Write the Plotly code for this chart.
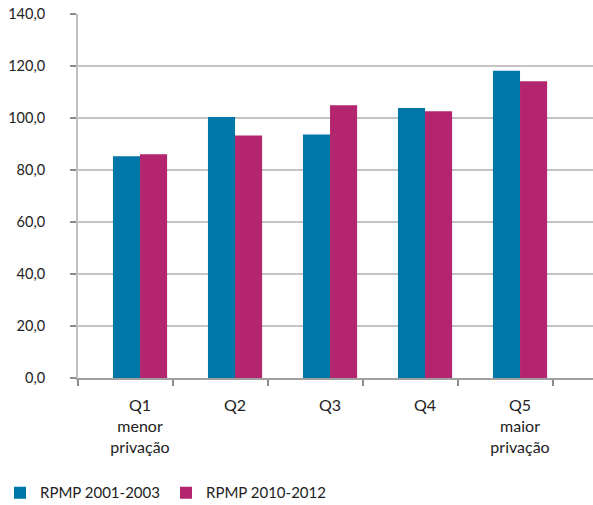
import plotly.graph_objects as go

categories = ["Q1<br>menor<br>privação", "Q2", "Q3", "Q4", "Q5<br>maior<br>privação"]
series_names = ["RPMP 2001-2003", "RPMP 2010-2012"]
rpmp_2001_2003 = [85.3, 100.4, 93.7, 103.8, 118.2]
rpmp_2010_2012 = [86.1, 93.3, 104.9, 102.6, 114.1]
y_tickvals = [0, 20, 40, 60, 80, 100, 120, 140]
y_ticktext = ["0,0", "20,0", "40,0", "60,0", "80,0", "100,0", "120,0", "140,0"]

colors = ["#0076A9", "#B3266F"]
FONT = "Lato"
TICK_OFFSET = -0.653  # tick marks sit left of each category centre, as in the source

fig = go.Figure()
for name, vals, col in zip(series_names, [rpmp_2001_2003, rpmp_2010_2012], colors):
    fig.add_trace(go.Bar(
        x=list(range(len(categories))), y=vals, name=name,
        marker=dict(color=col, line=dict(width=0)),
    ))

fig.update_layout(
    width=593, height=505,
    margin=dict(l=78, r=0, t=14, b=127),
    paper_bgcolor="white", plot_bgcolor="white",
    barmode="group", bargap=0.43, bargroupgap=0,
    font=dict(family=FONT, size=14, color="#222222"),
    xaxis=dict(
        range=[TICK_OFFSET, TICK_OFFSET + 515 / 95],
        tickmode="array", tickvals=list(range(len(categories))), ticktext=categories,
        ticks="", ticklabelstandoff=12,
        minor=dict(ticks="outside", ticklen=6, tickcolor="#8C8C8C", tickwidth=2,
                   tick0=TICK_OFFSET, dtick=1, showgrid=False),
        showline=True, linecolor="#A0A0A0", linewidth=2,
        showgrid=False, zeroline=False,
        tickfont=dict(family=FONT, size=16, color="#222222"),
        fixedrange=True,
    ),
    yaxis=dict(
        range=[0, 140],
        tickmode="array", tickvals=y_tickvals, ticktext=y_ticktext,
        ticks="outside", ticklen=6, tickcolor="#8C8C8C", tickwidth=2,
        showline=True, linecolor="#BFBFBF", linewidth=2,
        showgrid=True, gridcolor="#C4C4C4", gridwidth=2,
        zeroline=False,
        ticklabelstandoff=22,
        tickfont=dict(family=FONT, size=14.5, color="#222222"),
        fixedrange=True,
    ),
    legend=dict(
        orientation="h", xref="container", yref="container",
        x=-0.021, y=0.024, xanchor="left", yanchor="middle",
        font=dict(family=FONT, size=15, color="#222222"),
        itemwidth=30, entrywidth=121, entrywidthmode="pixels",
        bgcolor="rgba(0,0,0,0)",
    ),
    showlegend=True,
)

fig.write_html("out.html")
